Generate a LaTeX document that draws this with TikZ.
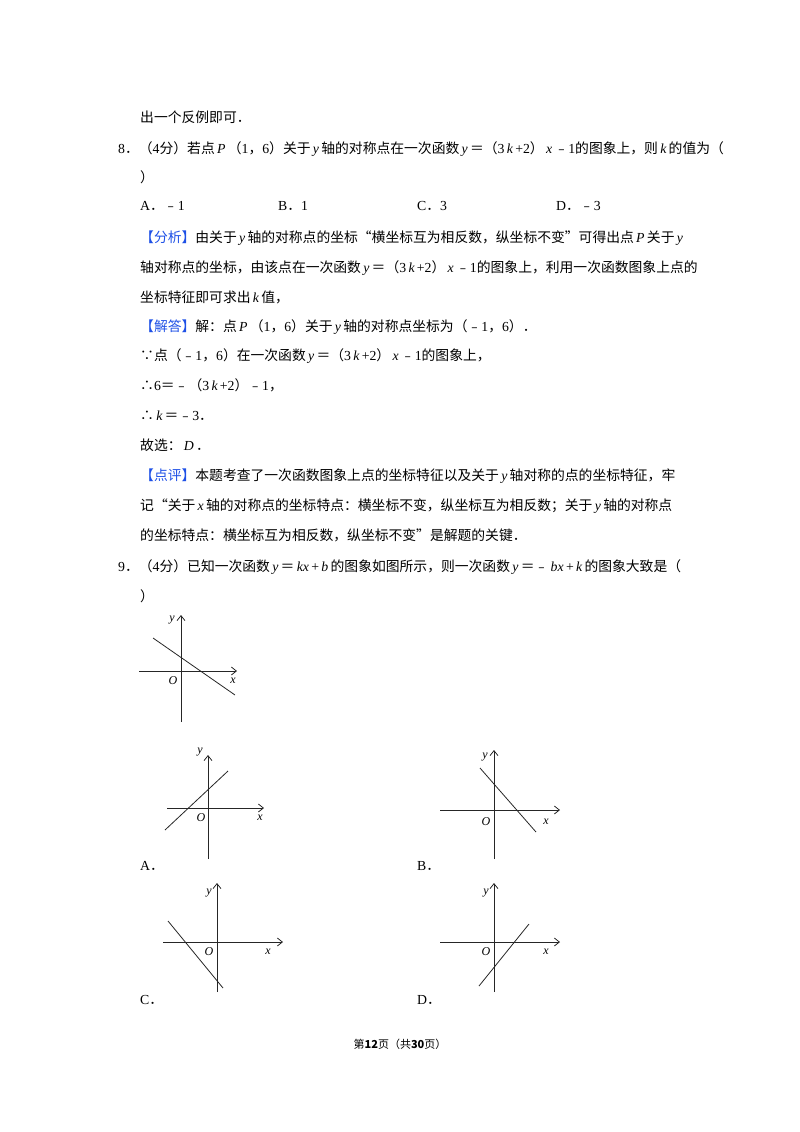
\documentclass[tikz,border=0pt]{standalone}
\usetikzlibrary{arrows.meta}
\usepackage{fontspec}
\setmainfont{Noto Sans CJK SC}
\newfontfamily\latin{Liberation Serif}
\newcommand{\iv}[1]{{\latin\itshape\,#1\,}}
\newcommand{\nm}[1]{{\latin #1}}
\definecolor{hb}{RGB}{30,80,230}
\begin{document}
\begin{tikzpicture}[x=1pt,y=-1pt,
  txt/.style={anchor=base west,inner sep=0pt,font=\fontsize{13.8}{16}\selectfont},
  ax/.style={line width=0.8pt,gray!30!black,-{Straight Barb[length=5pt,width=8pt]}},
  fn/.style={line width=0.8pt,gray!30!black},
  lb/.style={inner sep=0pt,font=\latin\itshape\fontsize{12}{12}\selectfont}]
\useasboundingbox (0,0) rectangle (800,1132);
\node[txt] (l1) at (140,122) {出一个反例即可．};
\node[txt] (l2) at (118,153) {\nm{8}．（\nm{4}分）若点\iv{P}（\nm{1}，\nm{6}）关于\iv{y}轴的对称点在一次函数\iv{y}＝（\nm{3}\iv{k}\nm{+2}）\iv{x}﹣\nm{1}的图象上，则\iv{k}的值为（};
\node[txt] (l3) at (140,182) {）};
\node[txt] (oa) at (140,210) {\nm{A}．﹣\nm{1}};
\node[txt] (ob) at (278,210) {\nm{B}．\nm{1}};
\node[txt] (oc) at (417,210) {\nm{C}．\nm{3}};
\node[txt] (od) at (556,210) {\nm{D}．﹣\nm{3}};
\node[txt] (l5) at (140,242) {{\color{hb}【分析】}由关于\iv{y}轴的对称点的坐标“横坐标互为相反数，纵坐标不变”可得出点\iv{P}关于\iv{y}};
\node[txt] (l6) at (140,272) {轴对称点的坐标，由该点在一次函数\iv{y}＝（\nm{3}\iv{k}\nm{+2}）\iv{x}﹣\nm{1}的图象上，利用一次函数图象上点的};
\node[txt] (l7) at (140,302) {坐标特征即可求出\iv{k}值，};
\node[txt] (l8) at (140,331) {{\color{hb}【解答】}解：点\iv{P}（\nm{1}，\nm{6}）关于\iv{y}轴的对称点坐标为（﹣\nm{1}，\nm{6}）．};
\node[txt] (l9) at (140,360) {∵点（﹣\nm{1}，\nm{6}）在一次函数\iv{y}＝（\nm{3}\iv{k}\nm{+2}）\iv{x}﹣\nm{1}的图象上，};
\node[txt] (l10) at (140,390) {∴\nm{6}＝﹣（\nm{3}\iv{k}\nm{+2}）﹣\nm{1}，};
\node[txt] (l11) at (140,420) {∴\iv{k}＝﹣\nm{3}．};
\node[txt] (l12) at (140,450) {故选：\iv{D}．};
\node[txt] (l13) at (140,480) {{\color{hb}【点评】}本题考查了一次函数图象上点的坐标特征以及关于\iv{y}轴对称的点的坐标特征，牢};
\node[txt] (l14) at (140,510) {记“关于\iv{x}轴的对称点的坐标特点：横坐标不变，纵坐标互为相反数；关于\iv{y}轴的对称点};
\node[txt] (l15) at (140,540) {的坐标特点：横坐标互为相反数，纵坐标不变”是解题的关键．};
\node[txt] (l16) at (118,571) {\nm{9}．（\nm{4}分）已知一次函数\iv{y}＝\iv{kx}\nm{+}\iv{b}的图象如图所示，则一次函数\iv{y}＝﹣\iv{bx}\nm{+}\iv{k}的图象大致是（};
\node[txt] (l17) at (140,601) {）};
% top graph
\coordinate (t1) at (181,722); \coordinate (t2) at (181,615);
\coordinate (t3) at (139,671); \coordinate (t4) at (237,671);
\coordinate (t5) at (153,638); \coordinate (t6) at (235,695);
\draw[ax] (t1) -- (t2); \draw[ax] (t3) -- (t4); \draw[fn] (t5) -- (t6);
\node[lb] (ty) at (172,620) {y}; \node[lb] (to) at (173,681) {O}; \node[lb] (tx) at (233,681) {x};
% A
\coordinate (a1) at (208,859); \coordinate (a2) at (208,755);
\coordinate (a3) at (167,808); \coordinate (a4) at (264,808);
\coordinate (a5) at (165,830); \coordinate (a6) at (228,771);
\draw[ax] (a1) -- (a2); \draw[ax] (a3) -- (a4); \draw[fn] (a5) -- (a6);
\node[lb] (ay) at (200,752) {y}; \node[lb] (ao) at (201,818) {O}; \node[lb] (axl) at (260,818) {x};
\node[txt] (la) at (140,870) {\nm{A}．};
% B
\coordinate (b1) at (494,859); \coordinate (b2) at (494,750);
\coordinate (b3) at (440,810); \coordinate (b4) at (560,810);
\coordinate (b5) at (480,768); \coordinate (b6) at (536,832);
\draw[ax] (b1) -- (b2); \draw[ax] (b3) -- (b4); \draw[fn] (b5) -- (b6);
\node[lb] (by) at (485,757) {y}; \node[lb] (bo) at (486,822) {O}; \node[lb] (bx) at (546,822) {x};
\node[txt] (lb) at (417,870) {\nm{B}．};
% C
\coordinate (c1) at (217,992); \coordinate (c2) at (217,883);
\coordinate (c3) at (163,942); \coordinate (c4) at (283,942);
\coordinate (c5) at (168,921); \coordinate (c6) at (223,988);
\draw[ax] (c1) -- (c2); \draw[ax] (c3) -- (c4); \draw[fn] (c5) -- (c6);
\node[lb] (cy) at (209,893) {y}; \node[lb] (co) at (209,952) {O}; \node[lb] (cx) at (268,952) {x};
\node[txt] (lc) at (140,1004) {\nm{C}．};
% D
\coordinate (d1) at (494,992); \coordinate (d2) at (494,883);
\coordinate (d3) at (440,942); \coordinate (d4) at (560,942);
\coordinate (d5) at (479,986); \coordinate (d6) at (529,924);
\draw[ax] (d1) -- (d2); \draw[ax] (d3) -- (d4); \draw[fn] (d5) -- (d6);
\node[lb] (dy) at (486,893) {y}; \node[lb] (do) at (486,952) {O}; \node[lb] (dx) at (546,952) {x};
\node[txt] (ld) at (417,1004) {\nm{D}．};
\node[inner sep=0pt,font=\fontsize{11}{12}\selectfont] (pg) at (400,1044) {第\textbf{12}页（共\textbf{30}页）};
\end{tikzpicture}
\end{document}
